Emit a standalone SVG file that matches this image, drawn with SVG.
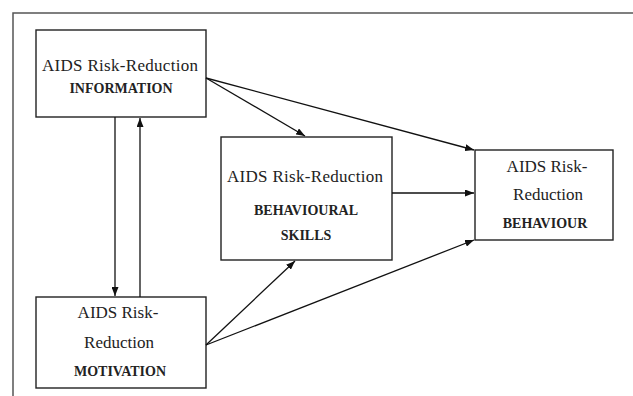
<svg xmlns="http://www.w3.org/2000/svg" width="633" height="396" viewBox="0 0 633 396">
<defs>
<marker id="ah" viewBox="0 0 10 10" refX="10" refY="5" markerWidth="9" markerHeight="7" markerUnits="userSpaceOnUse" orient="auto" preserveAspectRatio="none">
<path d="M0,0 L10,5 L0,10 Z" fill="#111"/>
</marker>
</defs>
<style>
.box{fill:#fff;stroke:#222;stroke-width:1.4}
.t{font-family:'Liberation Serif','Times New Roman','DejaVu Serif',serif;font-size:17px;fill:#222;text-anchor:middle}
.b{font-family:'Liberation Serif','Times New Roman','DejaVu Serif',serif;font-size:14px;font-weight:bold;fill:#222;text-anchor:middle}
.c{fill:none;stroke:#111;stroke-width:1.3;marker-end:url(#ah)}
</style>
<rect width="633" height="396" fill="#fff"/>
<path d="M13,396 V13 H633" fill="none" stroke="#555" stroke-width="1.5"/>
<g id="information">
<rect class="box" x="36" y="30" width="170" height="87"/>
<text class="t" x="120" y="71" textLength="156" lengthAdjust="spacing">AIDS Risk-Reduction</text>
<text class="b" x="121" y="93">INFORMATION</text>
</g>
<g id="motivation">
<rect class="box" x="36" y="297" width="170" height="91"/>
<text class="t" x="118" y="318">AIDS Risk-</text>
<text class="t" x="119" y="348">Reduction</text>
<text class="b" x="120" y="376">MOTIVATION</text>
</g>
<g id="skills">
<rect class="box" x="221" y="137" width="171" height="123"/>
<text class="t" x="305" y="182" textLength="156" lengthAdjust="spacing">AIDS Risk-Reduction</text>
<text class="b" x="306" y="215">BEHAVIOURAL</text>
<text class="b" x="306" y="240">SKILLS</text>
</g>
<g id="behaviour">
<rect class="box" x="475" y="150" width="138" height="90"/>
<text class="t" x="547" y="172">AIDS Risk-</text>
<text class="t" x="548" y="200">Reduction</text>
<text class="b" x="545" y="228">BEHAVIOUR</text>
</g>
<g id="connectors">
<line class="c" x1="115" y1="117" x2="115" y2="296"/>
<line class="c" x1="140" y1="297" x2="140" y2="118"/>
<line class="c" x1="206" y1="78" x2="305" y2="136"/>
<line class="c" x1="206" y1="78" x2="474" y2="150"/>
<line class="c" x1="392" y1="193" x2="474" y2="193"/>
<line class="c" x1="206" y1="345" x2="295" y2="261"/>
<line class="c" x1="206" y1="345" x2="474" y2="240"/>
</g>
</svg>
